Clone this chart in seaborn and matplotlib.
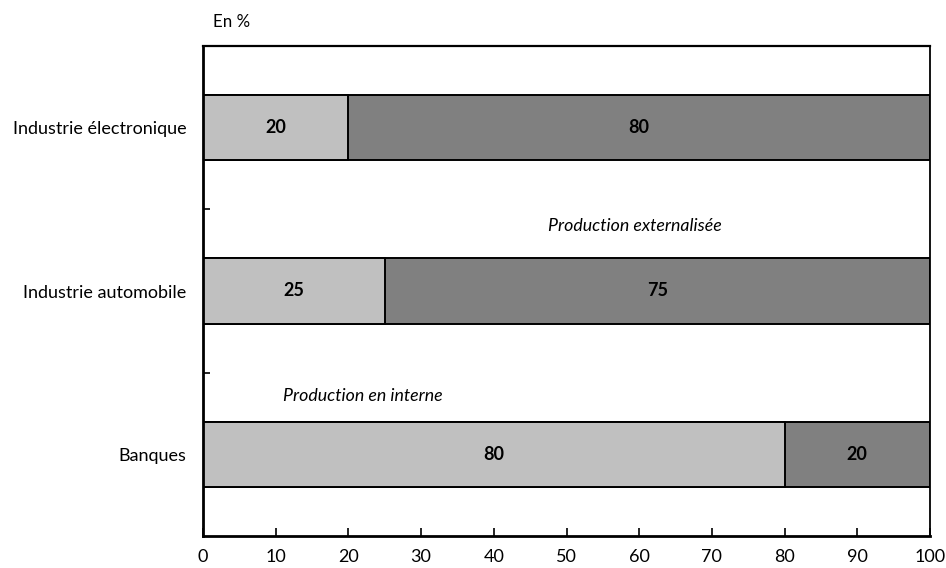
import matplotlib
matplotlib.use("Agg")
import matplotlib.pyplot as plt
import seaborn as sns
import pandas as pd
from matplotlib.ticker import FixedLocator

categories = ["Industrie électronique", "Industrie automobile", "Banques"]
interne = [20, 25, 80]
externe = [80, 75, 20]
x_ticks = [0, 10, 20, 30, 40, 50, 60, 70, 80, 90, 100]

sns.set_theme(style="white")
plt.rcParams["font.family"] = ["Lato", "DejaVu Sans"]

df = pd.DataFrame({"cat": categories, "interne": interne, "externe": externe})
df["total"] = df["interne"] + df["externe"]

fig = plt.figure(figsize=(9.46, 5.68), dpi=100)
ax = fig.add_axes([203 / 946, 1 - 536 / 568, 727 / 946, 490 / 568])

light = "#c0c0c0"
dark = "#808080"

sns.barplot(data=df, x="total", y="cat", color=dark, saturation=1, width=0.4,
            edgecolor="black", linewidth=1.4, ax=ax)
sns.barplot(data=df, x="interne", y="cat", color=light, saturation=1, width=0.4,
            edgecolor="black", linewidth=1.4, ax=ax)

# value labels centred in each segment
for i, (a, b) in enumerate(zip(interne, externe)):
    ax.text(a / 2, i, f"{a}", ha="center", va="center", fontsize=13,
            fontweight="bold", color="black")
    ax.text(a + b / 2, i, f"{b}", ha="center", va="center", fontsize=13,
            fontweight="bold", color="black")

ax.text(59.4, 0.60, "Production externalisée", ha="center", va="center",
        fontsize=12.8, style="italic", color="black")
ax.text(22.0, 1.645, "Production en interne", ha="center", va="center",
        fontsize=12.8, style="italic", color="black")

ax.set_xlim(0, 100)
ax.set_ylim(2.5, -0.5)
ax.set_xticks(x_ticks)
ax.set_xticklabels([str(t) for t in x_ticks], fontsize=13)
ax.tick_params(axis="x", direction="in", length=6, width=1.2, pad=9,
               bottom=True, colors="black")
ax.tick_params(axis="y", which="major", length=0, pad=12, labelsize=13,
               labelcolor="black")
ax.yaxis.set_minor_locator(FixedLocator([0.5, 1.5]))
ax.tick_params(axis="y", which="minor", direction="in", length=5, width=1.2,
               left=True, color="black")
ax.set_xlabel("")
ax.set_ylabel("")

for side in ["left", "bottom", "top", "right"]:
    ax.spines[side].set_visible(True)
    ax.spines[side].set_color("black")
ax.spines["left"].set_linewidth(2)
ax.spines["bottom"].set_linewidth(2)
ax.spines["top"].set_linewidth(1.6)
ax.spines["right"].set_linewidth(1.3)

fig.text(232 / 946, 1 - 22 / 568, "En %", ha="center", va="center",
         fontsize=12.2, color="black")

fig.savefig("out.png", dpi=100)
